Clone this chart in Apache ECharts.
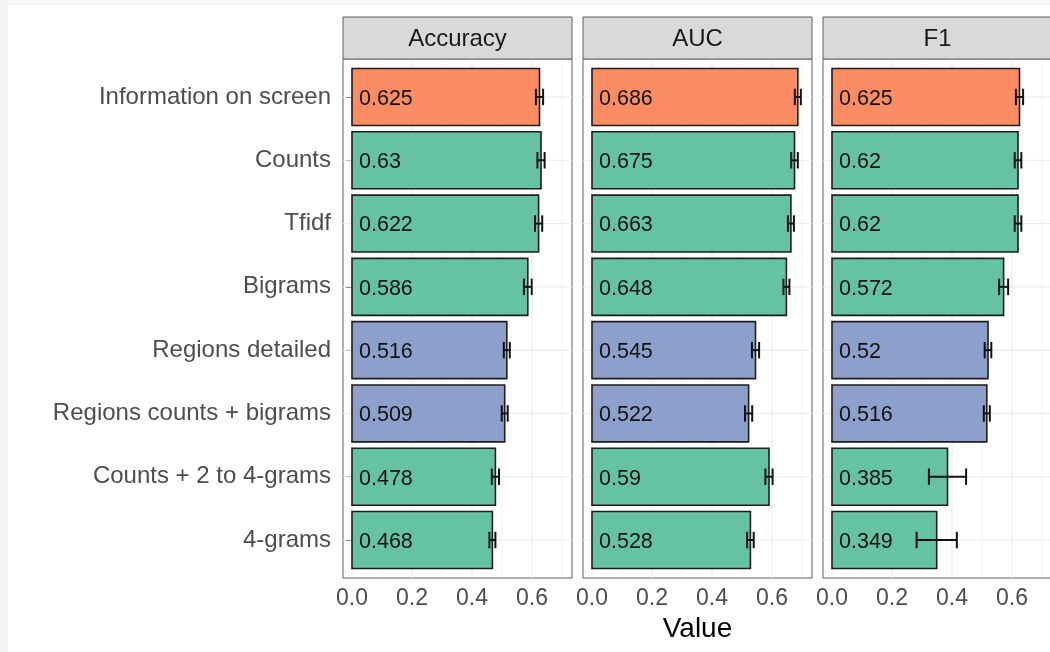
<!DOCTYPE html>
<html><head><meta charset="utf-8">
<script src="https://cdn.jsdelivr.net/npm/echarts@6/dist/echarts.min.js"></script>
<style>
html,body{margin:0;padding:0;background:#f4f4f4;overflow:hidden;width:1050px;height:652px;}
#chart{position:absolute;left:8px;top:5px;width:1062px;height:647px;background:#fff;}
</style></head><body><div id="chart"></div>
<script>
const categories = ['Information on screen','Counts','Tfidf','Bigrams','Regions detailed','Regions counts + bigrams','Counts + 2 to 4-grams','4-grams'];
const featureGroups = ['screen','words','words','words','regions','regions','words','words'];
const metrics = ['Accuracy','AUC','F1'];
const accuracy = [0.625,0.63,0.622,0.586,0.516,0.509,0.478,0.468];
const accuracyErr = [0.012,0.012,0.012,0.013,0.01,0.01,0.012,0.01];
const auc = [0.686,0.675,0.663,0.648,0.545,0.522,0.59,0.528];
const aucErr = [0.01,0.011,0.01,0.01,0.012,0.012,0.012,0.011];
const f1 = [0.625,0.62,0.62,0.572,0.52,0.516,0.385,0.349];
const f1Err = [0.012,0.011,0.011,0.015,0.011,0.01,0.062,0.067];
const xTicks = [0, 0.2, 0.4, 0.6];
const xGridValues = [0, 0.1, 0.2, 0.3, 0.4, 0.5, 0.6, 0.7];

const FONT = '"Liberation Sans", Arial, Helvetica, sans-serif';
const groupColors = {screen:'#fc8d62', words:'#66c2a5', regions:'#8da0cb'};
const panelValues = [accuracy, auc, f1];
const panelErrs = [accuracyErr, aucErr, f1Err];
const PANEL_LEFT = 335, PANEL_STEP = 240, PANEL_W = 229, PANEL_TOP = 54, PANEL_H = 519;
const STRIP_TOP = 12;
const BORDER = '#5e5e5e';

const chart = echarts.init(document.getElementById('chart'), null, {renderer:'canvas'});

const grids = [], xAxes = [], yAxes = [], series = [], graphics = [];
const catIdx = categories.map((c,i)=>i);

metrics.forEach((m,k)=>{
  const left = PANEL_LEFT + k*PANEL_STEP;
  grids.push({left:left, top:PANEL_TOP, width:PANEL_W, height:PANEL_H, show:true,
    backgroundColor:'#fff', borderColor:BORDER, borderWidth:1, containLabel:false, outerBoundsMode:'none'});
  xAxes.push({type:'value', gridIndex:k, min:-0.03, max:0.7333,
    splitLine:{show:false}, axisLine:{show:false},
    axisTick:{show:true, length:6, customValues:xTicks, lineStyle:{color:'#333', width:1}},
    axisLabel:{customValues:xTicks, formatter:v=>Number(v).toFixed(1), margin:9,
      color:'#4d4d4d', fontSize:23, fontFamily:FONT}});
  yAxes.push({type:'value', gridIndex:k, inverse:true, min:-0.6, max:7.6,
    splitLine:{show:false}, axisLine:{show:false},
    axisTick:{show:k===0, length:6, customValues:catIdx, lineStyle:{color:'#333', width:1}},
    axisLabel:{show:k===0, customValues:catIdx, formatter:v=>categories[Math.round(v)], margin:12,
      color:'#4d4d4d', fontSize:24, fontFamily:FONT}});
  // vertical grid lines
  series.push({type:'custom', xAxisIndex:k, yAxisIndex:k, silent:true, z:1,
    data:xGridValues.map(v=>[v,0]),
    renderItem:function(params, api){
      const cs = params.coordSys;
      const px = api.coord([api.value(0), 0])[0];
      const major = params.dataIndex % 2 === 0;
      return {type:'line', shape:{x1:px, y1:cs.y, x2:px, y2:cs.y+cs.height},
        style:{stroke:'#ebebeb', lineWidth: major ? 1.2 : 0.6}};
    }});
  // horizontal grid lines
  series.push({type:'custom', xAxisIndex:k, yAxisIndex:k, silent:true, z:1,
    data:catIdx.map(i=>[0,i]),
    renderItem:function(params, api){
      const cs = params.coordSys;
      const py = api.coord([0, api.value(1)])[1];
      return {type:'line', shape:{x1:cs.x, y1:py, x2:cs.x+cs.width, y2:py},
        style:{stroke:'#ebebeb', lineWidth:1.2}};
    }});
  // bars + labels + error bars
  const vals = panelValues[k], errs = panelErrs[k];
  series.push({type:'custom', xAxisIndex:k, yAxisIndex:k, z:2,
    data:vals.map((v,i)=>[v,i,errs[i]]),
    encode:{x:0, y:1},
    renderItem:function(params, api){
      const v = api.value(0), i = api.value(1), e = api.value(2);
      const p0 = api.coord([0, i]);
      const p1 = api.coord([v, i]);
      const band = Math.abs(api.coord([0, i+1])[1] - p0[1]);
      const h = band*0.9;
      const lo = api.coord([v-e, i])[0], hi = api.coord([v+e, i])[0];
      const cap = band*0.13;
      const y = p0[1];
      return {type:'group', children:[
        {type:'rect', shape:{x:p0[0], y:y-h/2, width:p1[0]-p0[0], height:h},
          style:{fill:groupColors[featureGroups[i]], stroke:'#1e1e1e', lineWidth:1.6}},
        {type:'text', style:{text:String(v), x:p0[0]+7, y:y+2, fill:'#111', fontSize:21.5,
          fontFamily:FONT, align:'left', verticalAlign:'middle'}},
        {type:'line', shape:{x1:lo, y1:y, x2:hi, y2:y}, style:{stroke:'#111', lineWidth:2}},
        {type:'line', shape:{x1:lo, y1:y-cap, x2:lo, y2:y+cap}, style:{stroke:'#111', lineWidth:2}},
        {type:'line', shape:{x1:hi, y1:y-cap, x2:hi, y2:y+cap}, style:{stroke:'#111', lineWidth:2}}
      ]};
    }});
  // strip header
  graphics.push({type:'rect', shape:{x:left, y:STRIP_TOP, width:PANEL_W, height:PANEL_TOP-STRIP_TOP},
    style:{fill:'#d9d9d9', stroke:BORDER, lineWidth:1}, z:10});
  graphics.push({type:'text', x:left+PANEL_W/2, y:(STRIP_TOP+PANEL_TOP)/2+1,
    style:{text:m, fill:'#1a1a1a', fontSize:24, fontFamily:FONT, align:'center', verticalAlign:'middle'}, z:11});
});

graphics.push({type:'text', x:PANEL_LEFT + (2*PANEL_STEP+PANEL_W)/2, y:624,
  style:{text:'Value', fill:'#000', fontSize:28, fontFamily:FONT, align:'center', verticalAlign:'middle'}, z:11});

chart.setOption({
  animation:false,
  backgroundColor:'#fff',
  grid:grids, xAxis:xAxes, yAxis:yAxes, series:series, graphic:graphics
});
</script></body></html>
